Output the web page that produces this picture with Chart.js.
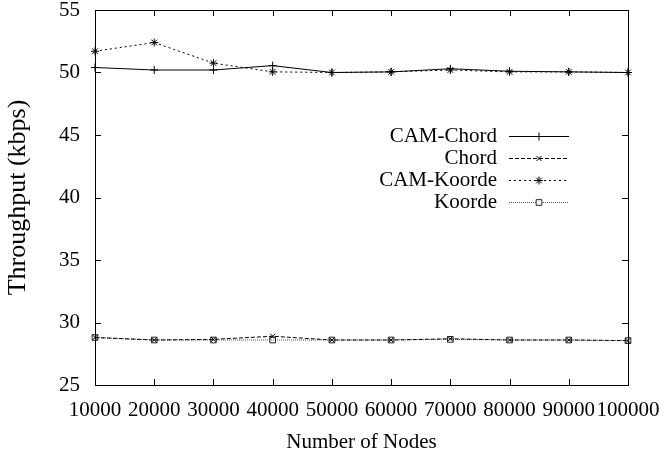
<!DOCTYPE html>
<html>
<head>
<meta charset="utf-8">
<script src="https://cdn.jsdelivr.net/npm/chart.js@4"></script>
<style>
  body { margin: 0; background: #fff; }
  canvas { display: block; }
</style>
</head>
<body>
<canvas id="grafico" width="665" height="455"></canvas>
<script>
// datos
var nodos = [10000, 20000, 30000, 40000, 50000, 60000, 70000, 80000, 90000, 100000];
var camChord  = [50.4, 50.2, 50.2, 50.55, 50.0, 50.05, 50.3, 50.1, 50.05, 50.0];
var chord     = [28.8, 28.6, 28.65, 28.9, 28.6, 28.6, 28.7, 28.6, 28.6, 28.55];
var camKoorde = [51.7, 52.4, 50.75, 50.05, 50.0, 50.05, 50.2, 50.05, 50.05, 50.0];
var koorde    = [28.8, 28.6, 28.6, 28.6, 28.6, 28.6, 28.65, 28.6, 28.6, 28.55];
var ticksY = [25, 30, 35, 40, 45, 50, 55];

var fuente = "'Liberation Serif', 'DejaVu Serif', serif";

// marco y marcas hacia dentro, estilo gnuplot
var marco = {
  id: 'marco',
  afterDatasetsDraw: function (chart) {
    var c = chart.ctx, a = chart.chartArea;
    var sx = chart.scales.x, sy = chart.scales.y;
    c.save();
    c.strokeStyle = '#000';
    c.lineWidth = 1;
    c.setLineDash([]);
    c.strokeRect(Math.round(a.left) + 0.5, Math.round(a.top) + 0.5,
      Math.round(a.right - a.left), Math.round(a.bottom - a.top));
    c.beginPath();
    for (var i = 0; i < nodos.length; i++) {
      var x = Math.round(sx.getPixelForValue(i)) + 0.5;
      c.moveTo(x, a.bottom); c.lineTo(x, a.bottom - 6);
      c.moveTo(x, a.top); c.lineTo(x, a.top + 6);
    }
    for (var j = 0; j < ticksY.length; j++) {
      var y = Math.round(sy.getPixelForValue(ticksY[j])) + 0.5;
      c.moveTo(a.left, y); c.lineTo(a.left + 6, y);
      c.moveTo(a.right, y); c.lineTo(a.right - 6, y);
    }
    c.stroke();
    c.restore();
  },
  afterDraw: function (chart) {
    // leyenda dentro del grafico
    var c = chart.ctx;
    c.save();
    c.font = '21px ' + fuente;
    c.textAlign = 'right';
    c.textBaseline = 'middle';
    chart.data.datasets.forEach(function (ds, k) {
      var y = 136 + k * 22;
      c.fillStyle = '#000';
      c.fillText(ds.label, 497, y);
      c.strokeStyle = ds.borderColor;
      c.lineWidth = 1;
      c.setLineDash(ds.borderDash || []);
      c.beginPath();
      c.moveTo(509, y + 0.5); c.lineTo(569, y + 0.5);
      c.stroke();
      c.setLineDash([]);
      c.strokeStyle = ds.pointBorderColor;
      c.fillStyle = ds.pointStyle === 'rect' ? '#fff' : '#000';
      Chart.helpers.drawPoint(c, {
        pointStyle: ds.pointStyle, radius: ds.pointRadius, rotation: 0, borderWidth: 1
      }, 539, y + 0.5);
    });
    c.restore();
  }
};

var ctx = document.getElementById('grafico').getContext('2d');
var chart = new Chart(ctx, {
  type: 'line',
  data: {
    labels: nodos,
    datasets: [
      { label: 'CAM-Chord', data: camChord, borderColor: '#000', backgroundColor: '#000',
        borderWidth: 1, pointStyle: 'cross', pointRadius: 4, pointBorderColor: '#000' },
      { label: 'Chord', data: chord, borderColor: '#000', backgroundColor: '#000',
        borderWidth: 1, borderDash: [4, 2], pointStyle: 'crossRot', pointRadius: 3.5, pointBorderColor: '#000' },
      { label: 'CAM-Koorde', data: camKoorde, borderColor: '#000', backgroundColor: '#000',
        borderWidth: 1, borderDash: [2, 3], pointStyle: 'star', pointRadius: 4, pointBorderColor: '#000' },
      { label: 'Koorde', data: koorde, borderColor: '#555', backgroundColor: 'rgba(255,255,255,0)',
        borderWidth: 1, borderDash: [1, 1], pointStyle: 'rect', pointRadius: 4, pointBorderColor: '#222' }
    ]
  },
  options: {
    responsive: false,
    animation: false,
    devicePixelRatio: 1,
    layout: { padding: { top: 10, right: 37, left: 0, bottom: 0 } },
    plugins: { legend: { display: false }, tooltip: { enabled: false } },
    elements: { line: { tension: 0, fill: false } },
    scales: {
      x: {
        type: 'category',
        offset: false,
        grid: { display: false, drawTicks: false },
        border: { display: false },
        ticks: { color: '#000', font: { family: fuente, size: 21 }, maxRotation: 0, autoSkip: false, padding: 13 },
        title: { display: true, text: 'Number of Nodes', color: '#000',
          font: { family: fuente, size: 21 }, padding: { top: 0, bottom: 0 } },
        afterFit: function (s) { s.height = 70; s.paddingLeft = 0; s.paddingRight = 0; }
      },
      y: {
        min: 25, max: 55,
        grid: { display: false, drawTicks: false },
        border: { display: false },
        ticks: { stepSize: 5, color: '#000', font: { family: fuente, size: 21 }, padding: 15 },
        title: { display: true, text: 'Throughput (kbps)', color: '#000',
          font: { family: fuente, size: 26 }, padding: { top: 3, bottom: 0 } },
        afterFit: function (s) { s.width = 95; s.paddingTop = 0; s.paddingBottom = 0; }
      }
    }
  },
  plugins: [marco]
});
</script>
</body>
</html>
